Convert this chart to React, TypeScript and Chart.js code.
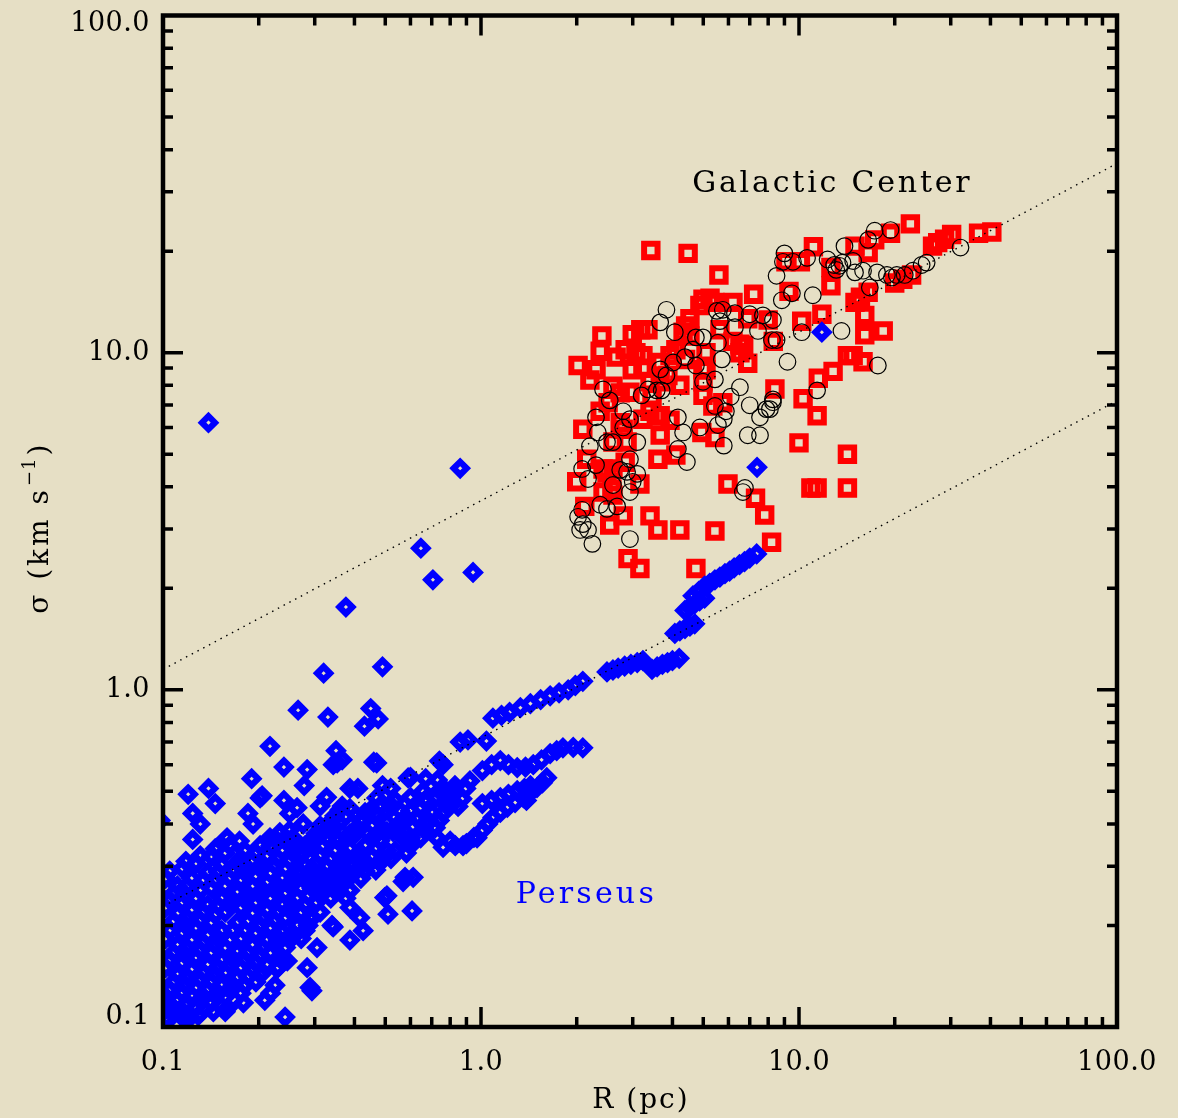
import React, { useEffect, useRef } from 'react';
import { Chart, registerables } from 'chart.js';

Chart.register(...registerables);

// ---------- data (R in pc, sigma in km/s) ----------
const perseusCloud: [number, number][] = [
  [0.105, 0.29], [0.118, 0.31], [0.131, 0.322], [0.146, 0.338], [0.162, 0.345], [0.181, 0.333], [0.202, 0.345],
  [0.225, 0.362], [0.25, 0.383], [0.28, 0.345], [0.312, 0.395], [0.347, 0.423], [0.387, 0.444], [0.432, 0.432],
  [0.481, 0.453], [0.537, 0.47], [0.6, 0.438], [0.665, 0.47], [0.74, 0.502], [0.828, 0.52], [0.923, 0.537],
  [0.105, 0.238], [0.118, 0.246], [0.131, 0.254], [0.146, 0.272], [0.162, 0.276], [0.181, 0.287], [0.202, 0.295],
  [0.225, 0.301], [0.25, 0.311], [0.28, 0.301], [0.312, 0.322], [0.347, 0.333], [0.387, 0.338], [0.432, 0.345],
  [0.481, 0.357], [0.537, 0.333], [0.6, 0.345], [0.665, 0.383], [0.74, 0.41],
  [0.105, 0.193], [0.118, 0.2], [0.131, 0.207], [0.146, 0.215], [0.162, 0.23], [0.181, 0.238], [0.202, 0.246],
  [0.225, 0.254], [0.25, 0.263], [0.28, 0.272], [0.312, 0.276], [0.347, 0.29], [0.387, 0.301], [0.432, 0.29],
  [0.481, 0.307],
  [0.105, 0.158], [0.118, 0.163], [0.131, 0.169], [0.146, 0.175], [0.162, 0.181], [0.181, 0.193], [0.202, 0.2],
  [0.225, 0.207], [0.25, 0.222], [0.28, 0.23], [0.312, 0.246], [0.347, 0.254], [0.387, 0.254],
  [0.105, 0.129], [0.118, 0.133], [0.131, 0.138], [0.146, 0.143], [0.162, 0.153], [0.181, 0.158], [0.202, 0.163],
  [0.225, 0.175], [0.25, 0.181], [0.28, 0.193],
  [0.105, 0.112], [0.118, 0.116], [0.131, 0.12], [0.146, 0.124], [0.162, 0.129], [0.181, 0.133], [0.202, 0.143],
  [0.225, 0.133],
  [0.111, 0.262], [0.123, 0.276], [0.138, 0.287], [0.153, 0.303], [0.171, 0.307], [0.191, 0.311], [0.212, 0.32],
  [0.237, 0.333], [0.264, 0.345], [0.294, 0.357], [0.328, 0.362], [0.366, 0.377], [0.408, 0.387], [0.454, 0.395],
  [0.506, 0.404], [0.565, 0.41], [0.629, 0.414], [0.702, 0.432], [0.782, 0.453], [0.872, 0.475],
  [0.111, 0.217], [0.123, 0.222], [0.138, 0.23], [0.153, 0.241], [0.171, 0.251], [0.191, 0.261], [0.212, 0.268],
  [0.237, 0.276], [0.264, 0.287], [0.294, 0.295], [0.328, 0.299], [0.366, 0.311], [0.408, 0.32], [0.454, 0.32],
  [0.506, 0.333],
  [0.111, 0.175], [0.123, 0.181], [0.138, 0.187], [0.153, 0.193], [0.171, 0.204], [0.191, 0.217], [0.212, 0.222],
  [0.237, 0.23], [0.264, 0.241], [0.294, 0.258], [0.328, 0.265], [0.366, 0.276],
  [0.111, 0.143], [0.123, 0.148], [0.138, 0.153], [0.153, 0.158], [0.171, 0.167], [0.191, 0.175], [0.212, 0.181],
  [0.237, 0.191], [0.264, 0.2], [0.294, 0.21],
  [0.111, 0.12], [0.123, 0.124], [0.138, 0.129], [0.153, 0.133], [0.171, 0.14], [0.191, 0.148], [0.212, 0.153],
  [0.237, 0.158],
  [0.104, 0.105], [0.116, 0.106], [0.129, 0.108], [0.144, 0.111], [0.16, 0.114], [0.179, 0.118],
];

const perseusCore: [number, number][] = [
  [0.102, 0.276], [0.115, 0.295], [0.127, 0.306], [0.142, 0.321], [0.157, 0.328], [0.176, 0.316], [0.196, 0.328],
  [0.218, 0.344], [0.243, 0.364], [0.272, 0.328], [0.303, 0.375], [0.337, 0.402], [0.376, 0.422], [0.419, 0.41],
  [0.467, 0.43], [0.521, 0.447], [0.583, 0.416], [0.646, 0.447], [0.719, 0.477], [0.804, 0.494], [0.896, 0.51],
  [0.102, 0.226], [0.115, 0.234], [0.127, 0.241], [0.142, 0.258], [0.157, 0.262], [0.176, 0.273], [0.196, 0.28],
  [0.218, 0.286], [0.243, 0.295], [0.272, 0.286], [0.303, 0.306], [0.337, 0.316], [0.376, 0.321], [0.419, 0.328],
  [0.467, 0.339], [0.521, 0.316], [0.583, 0.328], [0.646, 0.364], [0.719, 0.39],
  [0.102, 0.183], [0.115, 0.19], [0.127, 0.197], [0.142, 0.204], [0.157, 0.219], [0.176, 0.226], [0.196, 0.234],
  [0.218, 0.241], [0.243, 0.25], [0.272, 0.258], [0.303, 0.262], [0.337, 0.276], [0.376, 0.286], [0.419, 0.276],
  [0.467, 0.292],
  [0.102, 0.15], [0.115, 0.155], [0.127, 0.161], [0.142, 0.166], [0.157, 0.172], [0.176, 0.183], [0.196, 0.19],
  [0.218, 0.197], [0.243, 0.211], [0.272, 0.219], [0.303, 0.234], [0.337, 0.241], [0.376, 0.241],
  [0.102, 0.123], [0.115, 0.126], [0.127, 0.131], [0.142, 0.136], [0.157, 0.145], [0.176, 0.15], [0.196, 0.155],
  [0.218, 0.166], [0.243, 0.172], [0.272, 0.183],
  [0.102, 0.106], [0.115, 0.11], [0.127, 0.114], [0.142, 0.118], [0.157, 0.123], [0.176, 0.126], [0.196, 0.136],
  [0.218, 0.126],
  [0.108, 0.249], [0.119, 0.262], [0.134, 0.273], [0.149, 0.288], [0.166, 0.292], [0.185, 0.295], [0.206, 0.304],
  [0.23, 0.316], [0.256, 0.328], [0.286, 0.339], [0.318, 0.344], [0.355, 0.358], [0.396, 0.368], [0.441, 0.375],
  [0.491, 0.384], [0.549, 0.39], [0.611, 0.393], [0.682, 0.41], [0.759, 0.43], [0.847, 0.451],
  [0.108, 0.206], [0.119, 0.211], [0.134, 0.219], [0.149, 0.229], [0.166, 0.238], [0.185, 0.248], [0.206, 0.255],
  [0.23, 0.262], [0.256, 0.273], [0.286, 0.28], [0.318, 0.284], [0.355, 0.295], [0.396, 0.304], [0.441, 0.304],
  [0.491, 0.316],
  [0.108, 0.166], [0.119, 0.172], [0.134, 0.178], [0.149, 0.183], [0.166, 0.194], [0.185, 0.206], [0.206, 0.211],
  [0.23, 0.219], [0.256, 0.229], [0.286, 0.245], [0.318, 0.252], [0.355, 0.262],
  [0.108, 0.136], [0.119, 0.141], [0.134, 0.145], [0.149, 0.15], [0.166, 0.159], [0.185, 0.166], [0.206, 0.172],
  [0.23, 0.181], [0.256, 0.19], [0.286, 0.2],
  [0.108, 0.114], [0.119, 0.118], [0.134, 0.123], [0.149, 0.126], [0.166, 0.133], [0.185, 0.141], [0.206, 0.145],
  [0.23, 0.15],
];

const perseusScatter: [number, number][] = [
  [0.139, 6.2], [0.86, 4.54], [0.647, 2.63], [0.706, 2.12], [0.944, 2.23], [0.376, 1.76], [11.8, 11.5], [7.38, 4.57],
  [0.49, 1.17], [0.32, 1.12], [0.266, 0.87], [0.33, 0.83], [0.45, 0.88], [0.475, 0.82], [0.43, 0.78], [0.217, 0.68],
  [0.35, 0.66], [0.366, 0.62], [0.343, 0.6], [0.46, 0.61], [0.24, 0.59], [0.284, 0.58], [0.19, 0.545], [0.205, 0.485],
  [0.278, 0.52], [0.387, 0.51], [0.41, 0.51], [0.49, 0.52], [0.12, 0.49], [0.139, 0.51], [0.146, 0.46], [0.124, 0.43],
  [0.131, 0.4], [0.124, 0.36], [0.185, 0.43], [0.192, 0.4], [0.24, 0.47], [0.25, 0.43], [0.276, 0.4], [0.327, 0.48],
  [0.36, 0.44], [0.448, 0.438], [0.47, 0.478], [0.517, 0.458], [0.556, 0.438], [0.59, 0.548], [0.67, 0.545],
  [0.74, 0.615], [0.91, 0.71], [1.04, 0.705], [0.817, 0.462], [0.76, 0.512], [0.675, 0.47], [0.63, 0.418],
  [0.675, 0.4], [0.726, 0.364], [0.8, 0.356], [0.878, 0.345], [0.972, 0.364], [0.569, 0.364], [0.506, 0.38],
  [0.426, 0.41], [0.387, 0.374], [0.353, 0.364], [0.319, 0.38], [0.29, 0.356], [0.256, 0.364], [0.217, 0.364],
  [0.174, 0.356], [0.159, 0.364], [0.148, 0.34], [0.426, 0.305], [0.387, 0.278], [0.347, 0.266], [0.305, 0.26],
  [0.387, 0.226], [0.426, 0.193], [0.343, 0.198], [0.29, 0.211], [0.228, 0.185], [0.256, 0.185], [0.577, 0.278],
  [0.506, 0.245], [0.607, 0.221], [0.29, 0.131], [0.209, 0.12], [0.242, 0.107], [0.657, 0.5], [1.39, 0.47],
  [0.353, 0.607], [0.47, 0.607], [0.202, 0.478], [0.264, 0.447], [0.312, 0.452], [0.366, 0.452], [0.233, 0.377],
  [0.305, 0.364], [0.343, 0.414], [0.396, 0.38], [0.458, 0.364], [0.529, 0.38], [0.6, 0.364], [0.569, 0.27],
  [0.612, 0.278], [0.498, 0.242], [0.51, 0.216], [0.416, 0.211], [0.387, 0.181], [0.34, 0.2], [0.312, 0.219],
  [0.294, 0.128], [0.157, 0.111], [0.122, 0.107], [0.112, 0.11], [0.103, 0.117], [0.284, 0.15], [0.228, 0.149],
  [0.246, 0.157], [0.305, 0.172], [0.6, 0.55], [0.86, 0.7], [0.76, 0.6], [0.82, 0.5], [0.73, 0.54], [0.6, 0.48],
  [0.52, 0.51], [0.098, 0.41], [0.098, 0.245],
];

const perseusStreaks: [number, number][] = [
  [1.09, 0.824], [1.16, 0.84], [1.23, 0.857], [1.33, 0.885], [1.43, 0.91], [1.54, 0.935], [1.65, 0.96], [1.76, 0.98],
  [1.88, 1.0], [1.98, 1.03], [2.09, 1.06],
  [2.49, 1.13], [2.6, 1.145], [2.7, 1.16], [2.83, 1.175], [2.96, 1.19], [3.1, 1.205], [3.23, 1.22],
  [3.45, 1.15], [3.58, 1.17], [3.72, 1.19], [3.86, 1.205], [4.0, 1.22], [4.2, 1.24],
  [4.07, 1.47], [4.22, 1.495], [4.38, 1.52], [4.54, 1.545], [4.7, 1.57],
  [4.38, 1.72], [4.54, 1.76], [4.7, 1.8], [4.87, 1.835], [5.05, 1.87],
  [4.64, 1.9], [4.84, 1.96], [5.05, 2.03], [5.24, 2.07], [5.44, 2.12], [5.64, 2.16], [5.85, 2.21], [6.05, 2.25],
  [6.25, 2.3], [6.5, 2.35], [6.74, 2.4], [7.0, 2.46], [7.36, 2.53],
  [1.01, 0.576], [1.08, 0.6], [1.15, 0.617], [1.22, 0.6], [1.3, 0.588], [1.38, 0.59], [1.46, 0.6], [1.55, 0.62],
  [1.65, 0.647], [1.73, 0.66], [1.81, 0.673], [1.95, 0.675], [2.09, 0.673],
  [0.76, 0.341], [0.83, 0.345], [0.9, 0.35], [0.95, 0.365], [1.01, 0.383], [1.05, 0.4], [1.09, 0.418], [1.15, 0.433],
  [1.21, 0.448], [1.28, 0.463], [1.36, 0.479], [1.43, 0.496], [1.5, 0.513], [1.56, 0.53], [1.61, 0.549],
  [1.01, 0.46], [1.08, 0.47], [1.15, 0.479], [1.22, 0.49], [1.3, 0.502], [1.37, 0.51], [1.43, 0.52],
];

const gcSquares: [number, number][] = [
  [3.42, 20.1], [4.48, 19.7], [5.6, 17.0], [7.2, 14.9], [4.99, 14.4], [5.44, 14.1], [5.25, 14.5], [6.2, 14.1],
  [9.3, 15.2], [11.1, 20.6], [9.1, 18.6], [10.1, 18.6], [22.4, 24.1], [19.4, 22.6], [17.3, 21.6], [16.5, 19.8],
  [15.0, 20.7], [27.3, 21.2], [28.7, 21.7], [30.2, 22.4], [26.3, 20.7], [36.7, 22.6], [40.4, 22.8], [12.6, 15.8],
  [12.6, 17.9], [15.0, 14.1], [15.6, 14.6], [16.5, 15.1], [16.1, 12.9], [16.1, 11.3], [18.4, 11.6], [20.0, 16.1],
  [21.2, 16.5], [22.6, 17.0], [10.2, 12.4], [11.8, 13.0], [8.0, 12.5], [6.9, 12.6], [8.3, 10.8], [6.7, 10.5],
  [6.9, 9.3], [14.2, 9.8], [14.8, 9.8], [15.9, 9.4], [12.8, 8.8], [11.5, 8.4], [8.4, 7.8], [10.3, 7.3], [11.4, 6.5],
  [10.0, 5.4], [14.2, 5.0], [10.9, 3.97], [11.4, 3.97], [14.2, 3.97], [7.3, 3.7], [7.8, 3.3], [8.2, 2.74],
  [5.98, 4.08], [5.44, 2.96], [4.74, 2.29], [4.22, 2.98], [3.6, 2.98], [3.4, 3.28], [2.9, 2.45], [3.16, 2.29],
  [2.54, 3.08], [2.8, 3.28], [2.0, 4.14], [2.12, 3.5], [2.15, 4.83], [2.09, 5.93], [2.02, 9.16], [2.2, 8.3],
  [2.4, 11.2], [2.37, 10.1], [2.99, 11.3], [3.18, 11.7], [3.35, 11.7], [2.84, 10.2], [3.23, 9.8], [2.99, 8.9],
  [3.23, 9.0], [3.93, 9.8], [4.32, 11.5], [4.54, 11.2], [5.1, 10.0], [5.64, 11.7], [6.52, 10.6], [6.52, 10.0],
  [5.1, 8.9], [4.99, 8.2], [4.99, 7.47], [5.76, 7.1], [5.36, 6.95], [4.22, 8.0], [3.66, 8.2], [2.74, 7.6],
  [2.51, 7.1], [3.4, 6.7], [3.66, 6.5], [3.93, 6.3], [3.66, 5.7], [2.8, 5.93], [2.88, 5.43], [2.37, 6.7],
  [2.49, 4.4], [2.6, 4.52], [2.6, 3.78], [2.42, 3.86], [3.6, 4.83], [4.1, 4.97], [4.95, 5.8], [5.44, 5.6],
  [4.88, 13.8], [6.2, 10.8], [4.4, 12.0], [4.4, 9.55], [4.1, 10.2], [4.99, 8.9], [3.66, 9.35], [3.87, 8.56],
  [3.4, 8.2], [2.6, 7.95], [2.94, 7.63], [3.23, 6.35], [2.74, 6.2], [2.6, 5.43], [2.42, 4.52], [2.58, 3.94],
  [3.16, 4.08], [2.84, 4.73], [4.54, 12.6], [3.07, 10.0], [2.66, 9.7], [2.3, 8.9], [3.45, 7.4],
];

const gcCircles: [number, number][] = [
  [3.83, 13.4], [3.66, 12.3], [4.07, 11.5], [5.52, 13.3], [5.76, 13.4], [6.29, 13.1], [7.0, 13.0], [7.7, 12.9],
  [8.28, 12.5], [6.29, 11.9], [7.43, 11.6], [8.22, 10.9], [4.74, 11.1], [4.99, 11.1], [4.64, 10.2], [4.38, 9.7],
  [4.02, 9.35], [3.83, 8.56], [3.66, 8.92], [4.74, 9.16], [5.56, 10.7], [5.72, 9.55], [4.99, 8.2], [5.44, 8.33],
  [6.52, 7.9], [5.44, 6.95], [5.89, 6.7], [5.8, 6.35], [5.56, 6.1], [5.8, 5.3], [7.0, 6.98], [7.54, 6.43],
  [8.1, 6.8], [8.28, 7.13], [6.9, 5.69], [7.54, 5.69], [4.16, 6.43], [4.32, 5.8], [4.16, 5.18], [4.44, 4.74],
  [3.57, 7.73], [3.35, 7.78], [3.2, 7.47], [3.7, 7.73], [2.54, 7.22], [2.42, 7.78], [2.8, 6.7], [2.94, 6.35],
  [2.3, 6.43], [2.33, 5.8], [2.8, 6.0], [3.1, 5.43], [2.6, 5.43], [2.49, 5.43], [2.2, 5.28], [2.94, 4.83],
  [2.74, 4.49], [2.88, 4.43], [2.3, 4.64], [2.08, 4.52], [2.17, 4.22], [3.1, 4.37], [3.0, 4.14], [2.94, 3.86],
  [2.6, 4.05], [2.37, 3.54], [2.49, 3.44], [2.68, 3.5], [2.08, 3.42], [2.02, 3.26], [2.09, 3.1], [2.05, 2.98],
  [2.17, 2.98], [2.24, 2.71], [2.94, 2.8], [6.66, 3.86], [9.0, 19.7], [8.9, 18.6], [9.57, 18.6], [10.6, 19.1],
  [8.5, 16.9], [8.83, 14.3], [9.5, 15.0], [11.05, 14.8], [13.9, 20.7], [12.3, 18.9], [12.9, 18.2], [13.4, 18.1],
  [13.7, 18.5], [14.8, 18.7], [15.0, 17.3], [15.9, 17.5], [13.1, 17.6], [16.5, 21.6], [17.3, 23.0], [19.4, 23.1],
  [16.7, 15.6], [17.6, 17.3], [18.9, 17.0], [19.6, 16.7], [20.3, 17.0], [21.5, 17.0], [22.8, 17.5], [24.3, 18.2],
  [25.2, 18.5], [32.2, 20.5], [8.5, 10.9], [10.2, 11.5], [13.6, 11.6], [9.2, 9.4], [17.7, 9.16], [11.4, 7.73],
  [8.28, 7.27], [7.9, 6.8], [6.76, 3.97], [5.64, 12.4], [6.1, 7.4], [4.88, 6.0],
];

// sigma proportional to R^0.5 reference lines (end points)
const relationUpper: [number, number][] = [[0.1, 1.15], [100, 36.4]];
const relationLower: [number, number][] = [[0.1, 0.228], [100, 7.2]];

// axes
const axisMin = 0.1;
const axisMax = 100;
const majorTickValues = [0.1, 1, 10, 100];
const xTickLabels = ['0.1', '1.0', '10.0', '100.0'];
const yTickLabels = ['0.1', '1.0', '10.0', '100.0'];
const minorTickValues = [0.2, 0.3, 0.4, 0.5, 0.6, 0.7, 0.8, 0.9, 2, 3, 4, 5, 6, 7, 8, 9, 20, 30, 40, 50, 60, 70, 80, 90];
const xTitle = 'R (pc)';
const yTitleMain = 'σ (km s';
const yTitleSup = '−1';
const yTitleEnd = ')';

const annotations = [
  { text: 'Galactic Center', x: 12.6, y: 31.6, color: '#000000', spacing: 2.8 },
  { text: 'Perseus', x: 2.12, y: 0.246, color: '#0000ff', spacing: 3.2 },
];

const BG = '#e6dfc5';
const FONT = '"DejaVu Serif", serif';

const toPts = (a: [number, number][]) => a.map(([x, y]) => ({ x, y }));

const setSpacing = (ctx: any, px: number) => {
  if ('letterSpacing' in ctx) ctx.letterSpacing = `${px}px`;
};

const framePlugin = {
  id: 'idlFrame',
  beforeDraw(chart: any) {
    const { ctx, width, height } = chart;
    ctx.save();
    ctx.fillStyle = BG;
    ctx.fillRect(0, 0, width, height);
    ctx.restore();
  },
  afterDraw(chart: any) {
    const { ctx, chartArea: a } = chart;
    const xs = chart.scales.x;
    const ys = chart.scales.y;
    ctx.save();
    ctx.strokeStyle = '#000';
    ctx.lineCap = 'butt';
    // ticks
    ctx.lineWidth = 3.5;
    ctx.beginPath();
    const tick = (v: number, len: number) => {
      const px = xs.getPixelForValue(v);
      ctx.moveTo(px, a.bottom);
      ctx.lineTo(px, a.bottom - len);
      ctx.moveTo(px, a.top);
      ctx.lineTo(px, a.top + len);
      const py = ys.getPixelForValue(v);
      ctx.moveTo(a.left, py);
      ctx.lineTo(a.left + len, py);
      ctx.moveTo(a.right, py);
      ctx.lineTo(a.right - len, py);
    };
    minorTickValues.forEach((v) => tick(v, 10));
    majorTickValues.forEach((v) => {
      if (v > axisMin && v < axisMax) tick(v, 20);
    });
    ctx.stroke();
    // frame
    ctx.lineWidth = 4.5;
    ctx.strokeRect(a.left, a.top, a.right - a.left, a.bottom - a.top);

    // tick labels
    ctx.fillStyle = '#000';
    ctx.font = `27px ${FONT}`;
    setSpacing(ctx, 0.5);
    ctx.textAlign = 'center';
    ctx.textBaseline = 'middle';
    majorTickValues.forEach((v, i) => {
      ctx.fillText(xTickLabels[i], xs.getPixelForValue(v), a.bottom + 36);
    });
    ctx.textAlign = 'right';
    majorTickValues.forEach((v, i) => {
      const py = Math.min(Math.max(ys.getPixelForValue(v), a.top + 8), a.bottom - 10);
      ctx.fillText(yTickLabels[i], a.left - 13, py);
    });

    // axis titles
    ctx.font = `28px ${FONT}`;
    setSpacing(ctx, 2);
    ctx.textAlign = 'center';
    ctx.fillText(xTitle, (a.left + a.right) / 2 + 1, a.bottom + 74);

    ctx.save();
    ctx.translate(48, (a.top + a.bottom) / 2 + 7);
    ctx.rotate(-Math.PI / 2);
    ctx.textBaseline = 'alphabetic';
    ctx.textAlign = 'left';
    ctx.font = `28px ${FONT}`;
    setSpacing(ctx, 3);
    const w1 = ctx.measureText(yTitleMain).width;
    const w3 = ctx.measureText(yTitleEnd).width;
    ctx.font = `18px ${FONT}`;
    setSpacing(ctx, 1);
    const w2 = ctx.measureText(yTitleSup).width;
    const total = w1 + w2 + w3 + 2;
    let cx = -total / 2;
    ctx.font = `28px ${FONT}`;
    setSpacing(ctx, 3);
    ctx.fillText(yTitleMain, cx, 0);
    cx += w1 + 1;
    ctx.font = `18px ${FONT}`;
    setSpacing(ctx, 1);
    ctx.fillText(yTitleSup, cx, -13);
    cx += w2 + 2;
    ctx.font = `28px ${FONT}`;
    setSpacing(ctx, 3);
    ctx.fillText(yTitleEnd, cx, 0);
    ctx.restore();

    // annotations
    ctx.font = `30px ${FONT}`;
    ctx.textAlign = 'center';
    ctx.textBaseline = 'middle';
    annotations.forEach((t) => {
      setSpacing(ctx, t.spacing);
      ctx.fillStyle = t.color;
      ctx.fillText(t.text, xs.getPixelForValue(t.x) + t.spacing / 2, ys.getPixelForValue(t.y));
    });
    ctx.restore();
  },
};

export default function App() {
  const ref = useRef<HTMLCanvasElement | null>(null);
  useEffect(() => {
    document.body.style.margin = '0';
    document.body.style.background = BG;
    const canvas = ref.current;
    if (!canvas) return;
    const blue = [...perseusCloud, ...perseusCore, ...perseusScatter, ...perseusStreaks];
    const chart = new Chart(canvas, {
      type: 'scatter',
      data: {
        datasets: [
          {
            label: 'upper',
            data: toPts(relationUpper),
            showLine: true,
            borderColor: '#000',
            borderWidth: 1.4,
            borderDash: [1.5, 5],
            pointRadius: 0,
            order: -1,
            clip: 0,
          } as any,
          {
            label: 'lower',
            data: toPts(relationLower),
            showLine: true,
            borderColor: '#000',
            borderWidth: 1.4,
            borderDash: [1.5, 5],
            pointRadius: 0,
            order: -1,
            clip: 0,
          } as any,
          {
            label: 'Perseus',
            data: toPts(blue),
            pointStyle: 'rectRot',
            pointRadius: 6.5,
            pointBorderWidth: 6.2,
            borderColor: '#0000ff',
            pointBorderColor: '#0000ff',
            pointBackgroundColor: 'rgba(0,0,0,0)',
            backgroundColor: 'rgba(0,0,0,0)',
            order: 0,
            clip: 0,
          } as any,
          {
            label: 'GC circles',
            data: toPts(gcCircles),
            pointStyle: 'circle',
            pointRadius: 8.3,
            pointBorderWidth: 1.2,
            pointBorderColor: '#000',
            borderColor: '#000',
            pointBackgroundColor: 'rgba(0,0,0,0)',
            backgroundColor: 'rgba(0,0,0,0)',
            order: 1,
            clip: 0,
          } as any,
          {
            label: 'GC squares',
            data: toPts(gcSquares),
            pointStyle: 'rect',
            pointRadius: 9.5,
            pointBorderWidth: 6,
            pointBorderColor: '#ff0000',
            borderColor: '#ff0000',
            pointBackgroundColor: 'rgba(0,0,0,0)',
            backgroundColor: 'rgba(0,0,0,0)',
            order: 2,
            clip: 0,
          } as any,
        ],
      },
      options: {
        responsive: false,
        animation: false,
        devicePixelRatio: 1,
        layout: { padding: { left: 163, right: 61, top: 12, bottom: 91 } },
        plugins: { legend: { display: false }, tooltip: { enabled: false } },
        events: [],
        scales: {
          x: { type: 'logarithmic', min: axisMin, max: axisMax, display: false },
          y: { type: 'logarithmic', min: axisMin, max: axisMax, display: false },
        },
      },
      plugins: [framePlugin],
    });
    return () => chart.destroy();
  }, []);
  return <canvas ref={ref} width={1178} height={1118} style={{ display: 'block' }} />;
}
